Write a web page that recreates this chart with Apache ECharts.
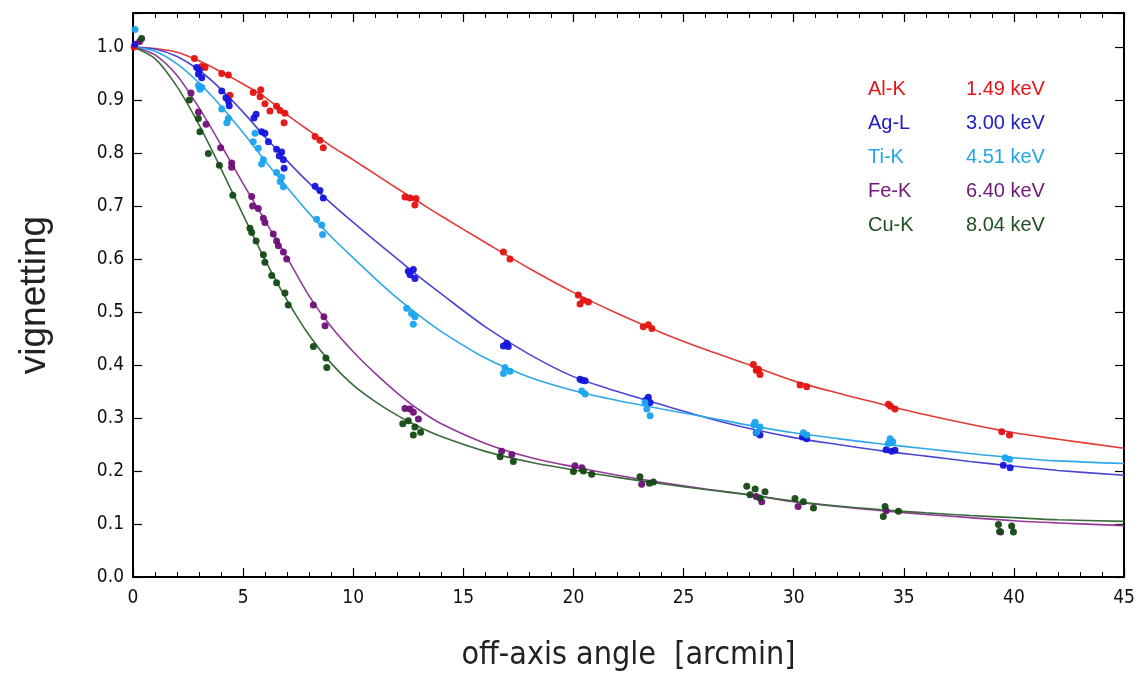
<!DOCTYPE html>
<html>
<head>
<meta charset="utf-8">
<script src="https://cdn.jsdelivr.net/npm/echarts@6/dist/echarts.min.js"></script>
<style>html,body{margin:0;padding:0;background:#fff}#c{width:1142px;height:677px}</style>
</head>
<body>
<div id="c"></div>
<script>
// ---- data ----
const curveX = [0,1,2,3,4,5,6,7,8,9,10,11,12,13,14,16,18,20,22,24,26,28,30,32,34,36,38,40,42,45];
const alCurve = [1.0,0.997,0.99,0.974,0.953,0.93,0.905,0.872,0.842,0.813,0.787,0.76,0.733,0.707,0.681,0.631,0.582,0.537,0.497,0.461,0.429,0.4,0.37,0.347,0.326,0.306,0.288,0.272,0.26,0.243];
const agCurve = [1.0,0.996,0.982,0.956,0.92,0.877,0.83,0.785,0.743,0.705,0.669,0.634,0.6,0.566,0.534,0.472,0.42,0.378,0.35,0.325,0.301,0.28,0.263,0.25,0.238,0.228,0.218,0.209,0.201,0.192];
const tiCurve = [1.0,0.992,0.968,0.932,0.888,0.838,0.785,0.735,0.686,0.642,0.602,0.563,0.526,0.493,0.463,0.413,0.377,0.352,0.333,0.317,0.302,0.286,0.272,0.261,0.251,0.242,0.233,0.225,0.219,0.214];
const feCurve = [1.0,0.985,0.946,0.885,0.815,0.742,0.672,0.602,0.53,0.472,0.425,0.384,0.347,0.315,0.289,0.252,0.226,0.208,0.192,0.178,0.166,0.155,0.142,0.133,0.125,0.118,0.112,0.106,0.102,0.097];
const cuCurve = [1.0,0.978,0.925,0.853,0.77,0.683,0.598,0.522,0.456,0.403,0.362,0.331,0.305,0.283,0.265,0.237,0.217,0.202,0.188,0.176,0.165,0.155,0.143,0.134,0.127,0.121,0.116,0.112,0.108,0.105];

const alPts = [[0.05,1.0],[2.79,0.978],[3.12,0.963],[3.27,0.961],[4.03,0.95],[4.33,0.947],[4.4,0.909],[5.46,0.914],[5.8,0.919],[5.77,0.906],[5.99,0.893],[6.22,0.879],[6.52,0.888],[6.68,0.88],[6.9,0.875],[6.86,0.857],[8.27,0.831],[8.49,0.824],[8.64,0.81],[12.35,0.717],[12.58,0.715],[12.8,0.702],[12.85,0.714],[16.82,0.613],[17.12,0.6],[20.22,0.532],[20.45,0.522],[20.68,0.519],[20.3,0.515],[23.17,0.472],[23.4,0.476],[23.56,0.469],[28.17,0.401],[28.4,0.392],[28.47,0.382],[28.3,0.39],[30.29,0.362],[30.59,0.359],[34.3,0.326],[34.6,0.317],[34.4,0.322],[39.45,0.274],[39.8,0.268]];
const agPts = [[0.09,1.005],[2.89,0.961],[3.01,0.956],[2.97,0.949],[3.12,0.942],[4.03,0.917],[4.22,0.904],[4.33,0.898],[4.37,0.889],[5.49,0.866],[5.59,0.873],[5.84,0.84],[5.99,0.837],[6.15,0.821],[6.52,0.807],[6.75,0.802],[6.64,0.794],[6.83,0.787],[6.86,0.771],[8.27,0.737],[8.49,0.729],[8.64,0.715],[12.5,0.577],[12.73,0.58],[12.8,0.563],[12.58,0.57],[16.82,0.436],[16.97,0.441],[17.04,0.435],[20.3,0.373],[20.53,0.37],[20.4,0.371],[23.4,0.339],[23.48,0.329],[23.3,0.334],[28.47,0.268],[28.3,0.272],[30.59,0.261],[30.4,0.264],[34.45,0.237],[34.2,0.24],[34.6,0.239],[39.52,0.211],[39.83,0.206]];
const tiPts = [[0.09,1.033],[2.97,0.927],[3.12,0.924],[3.04,0.92],[4.03,0.883],[4.33,0.865],[4.26,0.857],[5.54,0.837],[5.46,0.821],[5.69,0.809],[5.92,0.787],[5.84,0.779],[6.52,0.763],[6.75,0.754],[6.68,0.746],[6.83,0.736],[8.34,0.675],[8.57,0.664],[8.61,0.646],[12.43,0.507],[12.65,0.497],[12.8,0.491],[12.73,0.477],[16.89,0.395],[17.12,0.388],[16.82,0.384],[20.38,0.351],[20.53,0.345],[23.25,0.329],[23.33,0.317],[23.48,0.304],[28.25,0.292],[28.32,0.273],[28.47,0.283],[28.2,0.287],[30.44,0.272],[30.6,0.268],[34.38,0.261],[34.5,0.255],[34.3,0.252],[39.6,0.225],[39.8,0.222]];
const fePts = [[0.3,1.01],[2.63,0.913],[2.97,0.877],[3.32,0.854],[3.98,0.81],[4.48,0.781],[4.48,0.773],[5.39,0.718],[5.43,0.70],[5.69,0.695],[5.92,0.677],[5.99,0.669],[6.37,0.647],[6.52,0.634],[6.6,0.625],[6.83,0.613],[6.98,0.6],[8.19,0.513],[8.67,0.491],[8.72,0.474],[12.35,0.318],[12.58,0.317],[12.73,0.311],[12.96,0.298],[16.74,0.237],[17.2,0.231],[20.07,0.21],[20.38,0.206],[23.1,0.175],[28.55,0.142],[28.3,0.152],[30.2,0.133],[34.2,0.125],[39.4,0.085]];
const cuPts = [[0.39,1.016],[2.56,0.9],[2.97,0.865],[3.04,0.84],[3.42,0.799],[3.92,0.777],[4.53,0.72],[5.31,0.658],[5.39,0.65],[5.59,0.634],[5.92,0.608],[5.99,0.594],[6.3,0.569],[6.52,0.555],[6.9,0.536],[7.05,0.513],[8.19,0.435],[8.76,0.413],[8.8,0.395],[12.25,0.289],[12.5,0.295],[12.8,0.283],[13.06,0.273],[12.73,0.268],[16.67,0.227],[17.27,0.218],[20.0,0.199],[20.45,0.2],[20.83,0.194],[23.02,0.189],[23.63,0.179],[23.45,0.177],[27.87,0.171],[28.25,0.166],[28.7,0.161],[28.02,0.155],[28.47,0.149],[30.06,0.148],[30.44,0.142],[30.9,0.13],[34.15,0.133],[34.07,0.114],[34.76,0.124],[39.3,0.099],[39.35,0.086],[39.9,0.096],[39.98,0.085]];

const lineNames = ['Al-K','Ag-L','Ti-K','Fe-K','Cu-K'];
const energies = ['1.49 keV','3.00 keV','4.51 keV','6.40 keV','8.04 keV'];
const xTickLabels = ['0','5','10','15','20','25','30','35','40','45'];

// ---- styles ----
const curves = [alCurve, agCurve, tiCurve, feCurve, cuCurve];
const points = [alPts, agPts, tiPts, fePts, cuPts];
const lineColors = ['#e23a36','#4b45d2','#2ea8e6','#93399a','#3b6a3b'];
const dotColors = ['#e3120f','#1414dc','#1aa3ef','#6e0f78','#134913'];
const textColors = ['#e2151a','#2020c0','#23a6e8','#6e1878','#1f5220'];
const tickFont = "'Liberation Sans Narrow','DejaVu Sans Condensed','Liberation Sans',sans-serif";

const chart = echarts.init(document.getElementById('c'));
const series = [];
curves.forEach((c, i) => {
  series.push({
    type: 'line', name: lineNames[i] + ' fit', xAxisIndex: 0, yAxisIndex: 0,
    data: curveX.map((x, k) => [x, c[k]]),
    smooth: 0.3, showSymbol: false, symbol: 'none',
    lineStyle: { color: lineColors[i], width: 1.6 }, z: 2, silent: true
  });
});
points.forEach((p, i) => {
  series.push({
    type: 'scatter', name: lineNames[i], xAxisIndex: 0, yAxisIndex: 0,
    data: p, symbol: 'circle', symbolSize: 7,
    itemStyle: { color: dotColors[i], opacity: 0.95 }, z: 3
  });
});

const legendText = [];
lineNames.forEach((n, i) => {
  legendText.push({ type: 'text', left: 868, top: 79 + i * 34,
    style: { text: n, fill: textColors[i], font: "20px 'Liberation Sans',Arial,sans-serif" } });
  legendText.push({ type: 'text', left: 966, top: 79 + i * 34,
    style: { text: energies[i], fill: textColors[i], font: "20px 'Liberation Sans',Arial,sans-serif" } });
});

const axisLineStyle = { show: true, onZero: false, lineStyle: { color: '#000', width: 2 } };
chart.setOption({
  animation: false,
  backgroundColor: '#fff',
  grid: { left: 133, right: 18, top: 13, bottom: 93, containLabel: false },
  xAxis: [{
    type: 'value', min: 0, max: 45, interval: 5, position: 'bottom',
    axisLine: axisLineStyle,
    axisTick: { show: true, inside: true, length: 9, lineStyle: { color: '#000', width: 1.2 } },
    minorTick: { show: true, splitNumber: 5, length: 5, lineStyle: { color: '#000', width: 1 } },
    splitLine: { show: false },
    axisLabel: { margin: 12, fontSize: 19, color: '#111', fontFamily: tickFont,
      formatter: v => xTickLabels[Math.round(v / 5)] },
    name: 'off-axis angle  [arcmin]', nameLocation: 'middle', nameGap: 63,
    nameTextStyle: { fontSize: 32, color: '#222', fontFamily: tickFont }
  }, {
    type: 'value', min: 0, max: 45, interval: 5, position: 'top',
    axisLine: axisLineStyle,
    axisTick: { show: true, inside: true, length: 9, lineStyle: { color: '#000', width: 1.2 } },
    minorTick: { show: true, splitNumber: 5, length: 5, lineStyle: { color: '#000', width: 1 } },
    splitLine: { show: false }, axisLabel: { show: false }
  }],
  yAxis: [{
    type: 'value', min: 0, max: 1.064, interval: 0.1, position: 'left',
    axisLine: axisLineStyle,
    axisTick: { show: true, inside: true, length: 9, lineStyle: { color: '#000', width: 1.2 } },
    splitLine: { show: false },
    axisLabel: { margin: 9, fontSize: 19, color: '#111', fontFamily: tickFont,
      formatter: v => (v > 1.001 ? '' : v.toFixed(1)) },
    name: 'vignetting', nameLocation: 'middle', nameGap: 80, nameRotate: 90,
    nameTextStyle: { fontSize: 37, color: '#222', fontFamily: "'Liberation Sans',Arial,sans-serif" }
  }, {
    type: 'value', min: 0, max: 1.064, interval: 0.1, position: 'right',
    axisLine: axisLineStyle,
    axisTick: { show: true, inside: true, length: 9, lineStyle: { color: '#000', width: 1.2 } },
    splitLine: { show: false }, axisLabel: { show: false }
  }],
  graphic: legendText,
  series: series
});
</script>
</body>
</html>
